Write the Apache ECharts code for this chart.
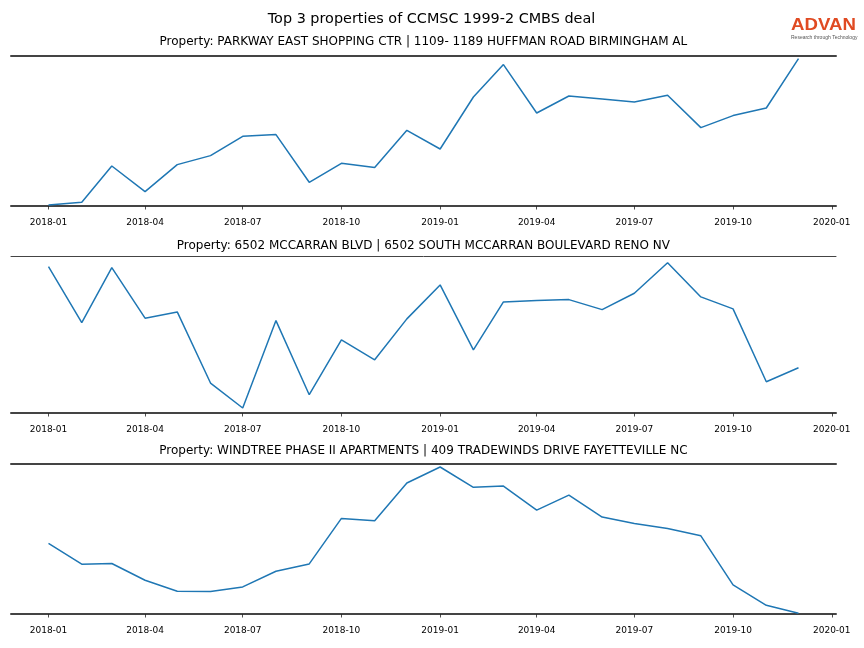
<!DOCTYPE html>
<html>
<head>
<meta charset="utf-8">
<script src="https://cdn.jsdelivr.net/npm/echarts@6/dist/echarts.min.js"></script>
<style>html,body{margin:0;padding:0;background:#fff}#c{width:864px;height:648px}</style>
</head>
<body>
<div id="c"></div>
<script>
// Months 2018-01 .. 2019-12
const months = ['2018-01','2018-02','2018-03','2018-04','2018-05','2018-06','2018-07','2018-08','2018-09','2018-10','2018-11','2018-12',
                '2019-01','2019-02','2019-03','2019-04','2019-05','2019-06','2019-07','2019-08','2019-09','2019-10','2019-11','2019-12'];
const tickLabels = ['2018-01','2018-04','2018-07','2018-10','2019-01','2019-04','2019-07','2019-10','2020-01'];

const titleMain = 'Top 3 properties of CCMSC 1999-2 CMBS deal';
const titles = [
  'Property: PARKWAY EAST SHOPPING CTR | 1109- 1189 HUFFMAN ROAD BIRMINGHAM AL',
  'Property: 6502 MCCARRAN BLVD | 6502 SOUTH MCCARRAN BOULEVARD RENO NV',
  'Property: WINDTREE PHASE II APARTMENTS | 409 TRADEWINDS DRIVE FAYETTEVILLE NC'
];

const parkway = [1.0, 3.7, 40.0, 14.4, 41.4, 50.4, 69.7, 71.4, 23.7, 42.7, 38.4, 75.7,
                 57.0, 109.0, 141.4, 93.0, 110.0, 107.0, 104.0, 110.7, 78.4, 90.4, 98.0, 147.4];
const mccarran = [146.6, 90.6, 145.6, 95.0, 101.3, 30.0, 5.0, 92.6, 18.3, 73.3, 53.3, 94.3,
                  128.3, 63.3, 111.3, 112.6, 113.6, 103.6, 120.0, 150.6, 116.3, 104.3, 31.3, 45.3];
const windtree = [70.4, 49.7, 50.4, 33.7, 22.7, 22.4, 27.0, 42.7, 50.0, 95.4, 93.0, 130.7,
                  146.7, 126.4, 127.7, 103.7, 118.7, 96.7, 90.4, 85.4, 78.0, 29.0, 8.7, 0.7];
const seriesList = [parkway, mccarran, windtree];
const yMax = [150, 157.3, 149.7];

function ts(s){ const p = s.split('-'); return Date.UTC(+p[0], +p[1]-1, 1); }
const DAY = 86400000;
const xMin = ts('2018-01') - 34.95*DAY;
const xMax = ts('2019-12') + 34.95*DAY;
const tickVals = tickLabels.map(ts);

const grids = [
  {left: 11, right: 28, top: 56, height: 150},
  {left: 11, right: 28, top: 256, height: 157},
  {left: 11, right: 28, top: 464, height: 150}
];

function fmt(v){ const d = new Date(v); const m = d.getUTCMonth()+1; return d.getUTCFullYear() + '-' + (m<10?'0':'') + m; }

const xAxis = [], yAxis = [], series = [];
const subY = [41.8, 246.2, 451.2];
const graphic = [
  {type:'text', x: 431.5, y: 19.7, style:{text: titleMain, textAlign:'center', textVerticalAlign:'middle', fontFamily:'DejaVu Sans', fontSize:14.4, fill:'#000'}},
  {type:'text', x: 791, y: 17, scaleX: 1.13, style:{text:'ADVAN', fontFamily:'Liberation Sans', fontSize:16.5, fontWeight:'bold', fill:'#e04a22'}},
  {type:'text', x: 791, y: 35, style:{text:'Research through Technology', fontFamily:'Liberation Sans', fontSize:5, fill:'#555'}}
];
grids.forEach((g, i) => {
  graphic.push({type:'text', x: 423.4, y: subY[i], style:{text: titles[i], textAlign:'center', textVerticalAlign:'middle', fontFamily:'DejaVu Sans', fontSize:12, fill:'#000'}});
  const base = {type:'value', gridIndex:i, min:xMin, max:xMax, splitLine:{show:false}, scale:true};
  xAxis.push(Object.assign({}, base, {
    position:'bottom', offset:6,
    axisLine:{show:false},
    axisTick:{show:true, length:3.5, lineStyle:{color:'#222', width:0.8}, customValues: tickVals},
    axisLabel:{show:true, customValues: tickVals, formatter: fmt, fontFamily:'DejaVu Sans', fontSize:9, color:'#000', margin:6.5, hideOverlap:false}
  }));
  xAxis.push(Object.assign({}, base, {
    position:'bottom', offset:0,
    axisLine:{show:true, lineStyle:{color:'#444', width:2}},
    axisTick:{show:false}, axisLabel:{show:false}
  }));
  xAxis.push(Object.assign({}, base, {
    position:'top', offset:0,
    axisLine:{show:true, lineStyle:{color:'#444', width: i===1 ? 1 : 2}},
    axisTick:{show:false}, axisLabel:{show:false}
  }));
  yAxis.push({type:'value', gridIndex:i, min:0, max:yMax[i], show:false, splitLine:{show:false}});
  series.push({
    type:'line', xAxisIndex: i*3, yAxisIndex: i, symbol:'none', animation:false,
    lineStyle:{color:'#1f77b4', width:1.5},
    data: months.map((m, k) => [ts(m), seriesList[i][k]])
  });
});

const chart = echarts.init(document.getElementById('c'), null, {renderer:'canvas'});
chart.setOption({
  animation: false,
  backgroundColor: '#fff',
  grid: grids,
  xAxis: xAxis,
  yAxis: yAxis,
  series: series,
  graphic: graphic
});
</script>
</body>
</html>
